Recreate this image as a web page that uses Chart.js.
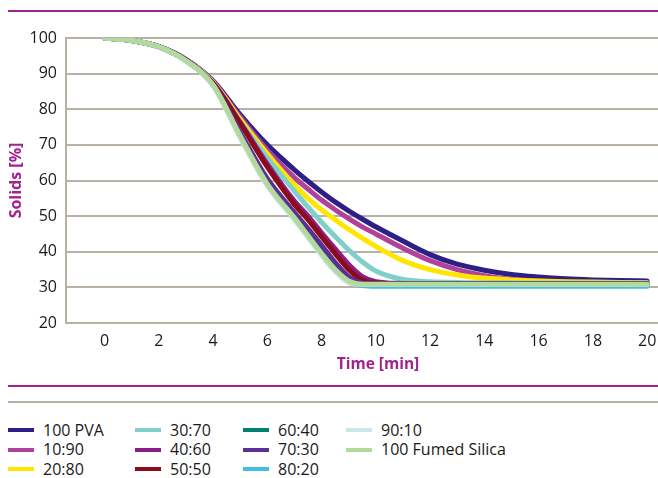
<!DOCTYPE html>
<html><head><meta charset="utf-8">
<script src="https://cdn.jsdelivr.net/npm/chart.js@4.4.1/dist/chart.umd.min.js"></script>
<style>
html,body{margin:0;padding:0;background:#fff;width:658px;height:478px;overflow:hidden;font-family:'Open Sans',sans-serif;}
#wrap{position:absolute;left:0;top:0;width:658px;height:380px;}
.rule{position:absolute;left:8px;width:650px;}
.item{position:absolute;display:flex;align-items:center;font-size:16px;color:#1a1a1a;white-space:nowrap;line-height:19px;height:19px;}
.sw{display:inline-block;width:26px;height:4px;margin-right:9px;}
</style></head>
<body>
<div class="rule" style="top:10px;height:2px;background:#a3228f"></div>
<div id="wrap"><canvas id="c" width="658" height="380"></canvas></div>
<div class="rule" style="top:385px;height:2px;background:#a3228f"></div>
<div class="rule" style="top:401px;height:2px;background:#b9b0a6"></div>
<div id="legend"></div>
<script>
const times = [0,1,2,3,4,5,6,7,7.5,8,8.5,9,9.5,10,11,12,13,14,15,16,17,18,19,20];
const xTicks = [0,2,4,6,8,10,12,14,16,18,20];
const yTicks = [20,30,40,50,60,70,80,90,100];
const seriesNames = ['100 PVA','10:90','20:80','30:70','40:60','50:50','60:40','70:30','80:20','90:10','100 Fumed Silica'];
const pva100 = [100,99.3,97.6,94,88,78.5,70,63,59.8,56.8,54,51.5,49.2,47,43,39.2,36.5,34.8,33.6,32.9,32.4,32.1,31.9,31.8];
const r10_90 = [100,99.3,97.6,94,87.8,77.8,68.5,60.8,57.6,54.5,51.8,49.3,47,45,41,37.5,35,33.3,32.3,31.8,31.5,31.4,31.3,31.3];
const r20_80 = [100,99.3,97.6,94,87.6,77.2,67.5,58.8,55,51.8,49,46.3,43.8,41.5,37.5,35,33.5,32.6,32.1,31.8,31.6,31.5,31.4,31.3];
const r30_70 = [100,99.3,97.6,94,87.4,76.5,66.3,57,52.5,48.3,44.3,40.5,37.2,34.6,32.2,31.6,31.4,31.3,31.3,31.2,31.2,31.2,31.2,31.2];
const r40_60 = [100,99.3,97.6,93.9,87.3,76.3,64.6,54.2,50,45.3,40.8,36.4,33,31.6,31.1,31,31,31,31,31,31,31,31,31];
const r50_50 = [100,99.3,97.6,93.9,87.2,76,63.8,53.3,49,44.2,39.5,35,32,31.2,31,31,31,31,31,31,31,31,31,31];
const r60_40 = [100,99.3,97.5,93.7,86.9,72.8,59.3,49.8,45,40,35.3,31.9,31,30.9,30.9,30.9,30.9,30.9,30.9,30.9,30.9,30.9,30.9,30.9];
const r70_30 = [100,99.3,97.5,93.7,87,73.5,60.5,51,46.5,41.8,37,33,31.2,30.9,30.9,30.9,30.9,30.9,30.9,30.9,30.9,30.9,30.9,30.9];
const r80_20 = [100,99.3,97.5,93.6,86.7,72.3,58.8,49.2,44.3,39.3,34.6,31.4,30.5,30.3,30.3,30.3,30.3,30.3,30.3,30.3,30.3,30.3,30.3,30.3];
const r90_10 = [100,99.3,97.5,93.6,86.6,72,58.5,49,44,39,34.5,31.3,30.8,30.8,30.8,30.8,30.8,30.8,30.8,30.8,30.8,30.8,30.8,30.8];
const silica = [100,99.3,97.5,93.6,86.8,72.5,59,49.5,44.5,39.5,35,31.8,30.9,30.9,30.9,30.9,30.9,30.9,30.9,30.9,30.9,30.9,30.9,30.9];
const seriesValues = [pva100,r10_90,r20_80,r30_70,r40_60,r50_50,r60_40,r70_30,r80_20,r90_10,silica];
const colors = ['#2e1f86','#b0429c','#ffe600','#80cfcb','#8c1c86','#8c0b19','#00806f','#5a3192','#46bbea','#c9e7e8','#b4d99d'];

const purple = '#a3228f';
const gridCol = '#b9b0a6';
const n = seriesNames.length;
const datasets = seriesNames.map((name,i)=>({
  label:name,
  data: times.map((t,j)=>({x:t,y:seriesValues[i][j]})),
  borderColor:colors[i], backgroundColor:colors[i],
  borderWidth:5, pointRadius:0, fill:false,
  cubicInterpolationMode:'monotone',
  borderCapStyle:'round', borderJoinStyle:'round',
  order: n - i
}));

const xTitle = {
  id:'xTitle',
  afterDraw(chart){
    const ctx = chart.ctx; ctx.save();
    ctx.font = "bold 15.5px 'Open Sans'"; ctx.fillStyle = purple;
    ctx.textAlign='center'; ctx.textBaseline='middle';
    ctx.fillText('Time [min]', 378, 365);
    ctx.restore();
  }
};

new Chart(document.getElementById('c'), {
  type:'line',
  data:{datasets},
  options:{
    responsive:false, animation:false,
    layout:{padding:{top:38,right:0,bottom:0,left:0}},
    plugins:{legend:{display:false}, tooltip:{enabled:false}},
    scales:{
      x:{type:'linear', min:-1.42, max:20.4,
        afterBuildTicks:(s)=>{ s.ticks = xTicks.map(v=>({value:v})); },
        afterFit:(s)=>{ s.height = 57; s.paddingRight = 0; s.paddingLeft = 0; },
        grid:{display:false, drawTicks:false},
        border:{display:true, color:gridCol, width:2},
        ticks:{padding:9, color:'#1a1a1a', font:{family:'Open Sans', size:16}, maxRotation:0, autoSkip:false}
      },
      y:{min:20, max:100,
        afterBuildTicks:(s)=>{ s.ticks = yTicks.map(v=>({value:v})); },
        afterFit:(s)=>{ s.width = 66; },
        grid:{color:gridCol, lineWidth:2, drawTicks:false},
        border:{display:true, color:gridCol, width:2},
        ticks:{padding:9, color:'#1a1a1a', font:{family:'Open Sans', size:16}},
        title:{display:true, text:'Solids [%]', color:purple, font:{family:'Open Sans', size:16, weight:'bold'}, padding:{top:7,bottom:0}}
      }
    }
  },
  plugins:[xTitle]
});

// HTML legend, column-major
const leg = document.getElementById('legend');
const colX = [8,135,243,346];
const rowY = [430,449.5,469];
seriesNames.forEach((name,i)=>{
  const col = Math.floor(i/3), row = i%3;
  const d = document.createElement('div');
  d.className='item';
  d.style.left = colX[col]+'px';
  d.style.top = (rowY[row]-9.5)+'px';
  const sw = document.createElement('span'); sw.className='sw'; sw.style.background = colors[i];
  const tx = document.createElement('span'); tx.textContent = name;
  d.appendChild(sw); d.appendChild(tx); leg.appendChild(d);
});
</script>
</body></html>
